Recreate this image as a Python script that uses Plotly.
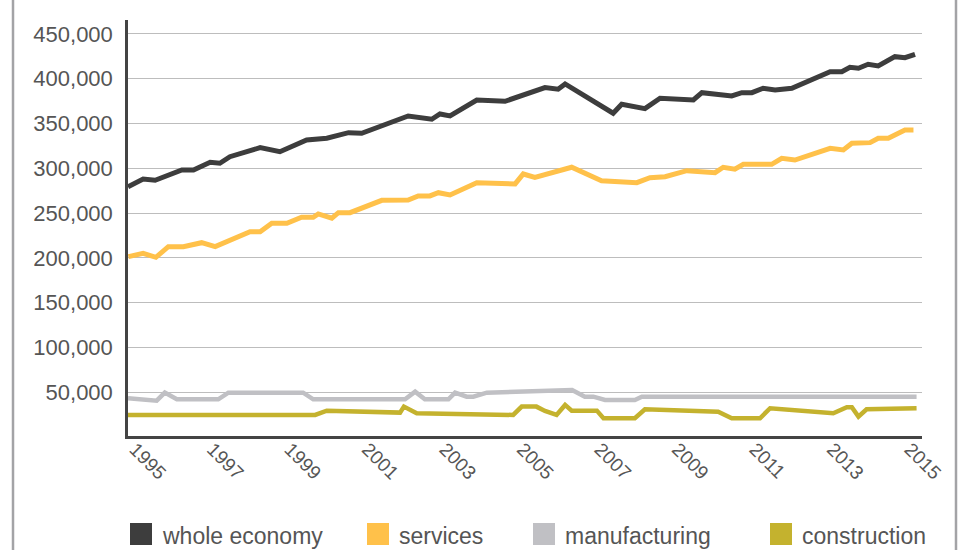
import plotly.graph_objects as go

# ---------------- data ----------------
series_names = ["whole economy", "services", "manufacturing", "construction"]

whole_x = [1995.00, 1995.39, 1995.70, 1996.39, 1996.69, 1997.12, 1997.37, 1997.63, 1998.41, 1998.92,
           1999.61, 2000.13, 2000.69, 2001.03, 2002.23, 2002.84, 2003.05, 2003.31, 2004.00, 2004.73,
           2005.76, 2006.10, 2006.28, 2007.52, 2007.74, 2008.34, 2008.73, 2009.59, 2009.81, 2010.58,
           2010.84, 2011.10, 2011.39, 2011.70, 2012.13, 2013.12, 2013.42, 2013.63, 2013.85, 2014.10,
           2014.36, 2014.79, 2015.05, 2015.31]
whole_y = [279500, 288100, 286700, 298200, 298200, 306800, 305700, 313000, 323100, 318600,
           331700, 333600, 339800, 339200, 358500, 354800, 360700, 358500, 376300, 374900,
           390100, 388300, 394200, 361500, 371500, 366600, 378200, 376300, 384500, 380800,
           384500, 384500, 389400, 387500, 389400, 407900, 407900, 412800, 411700, 416200,
           414300, 424700, 423500, 427300]

services_x = [1995.01, 1995.39, 1995.72, 1996.04, 1996.43, 1996.90, 1997.25, 1998.15, 1998.41, 1998.71,
              1999.10, 1999.48, 1999.78, 1999.91, 2000.26, 2000.43, 2000.73, 2001.55, 2002.23, 2002.49,
              2002.79, 2003.01, 2003.31, 2004.00, 2004.99, 2005.20, 2005.50, 2006.45, 2007.22, 2008.13,
              2008.47, 2008.86, 2009.42, 2010.15, 2010.36, 2010.66, 2010.88, 2011.61, 2011.87, 2012.21,
              2013.12, 2013.46, 2013.68, 2014.15, 2014.36, 2014.62, 2015.05, 2015.27]
services_y = [201400, 205200, 200700, 212600, 212600, 217000, 212600, 229300, 229300, 238700,
              238700, 245400, 245400, 249100, 244300, 250500, 250500, 264300, 264700, 269200,
              269200, 272800, 270300, 284000, 282600, 293700, 290000, 301200, 286200, 284000,
              289600, 290700, 297400, 295200, 301200, 299000, 304500, 304500, 311200, 309300,
              322400, 320500, 328000, 328700, 333600, 333600, 342800, 342800]

manuf_x = [1995.00, 1995.74, 1995.95, 1996.26, 1997.33, 1997.59, 1999.52, 1999.78, 2002.15, 2002.41,
           2002.66, 2003.27, 2003.44, 2003.74, 2003.91, 2004.26, 2006.46, 2006.79, 2007.01, 2007.31,
           2008.08, 2008.26, 2015.35]
manuf_y = [43300, 40700, 49600, 42200, 42200, 49600, 49600, 42200, 42200, 50700,
           42200, 42200, 49600, 45100, 45100, 49600, 52600, 45100, 45100, 41400,
           41400, 45100, 45100]

constr_x = [1995.00, 1999.83, 2000.13, 2002.02, 2002.12, 2002.45, 2004.94, 2005.16, 2005.54, 2005.76,
            2006.06, 2006.28, 2006.45, 2007.10, 2007.27, 2008.08, 2008.34, 2010.23, 2010.58, 2011.31,
            2011.57, 2013.20, 2013.55, 2013.68, 2013.85, 2014.06, 2015.35]
constr_y = [24700, 24700, 29500, 27300, 34000, 26600, 24700, 34000, 34000, 29200,
            24700, 35900, 29500, 29500, 21000, 21000, 31000, 28400, 21000, 21000,
            32200, 26600, 33300, 33300, 22800, 31000, 32200]

x_tick_vals = [1995, 1997, 1999, 2001, 2003, 2005, 2007, 2009, 2011, 2013, 2015]
x_tick_text = [str(v) for v in x_tick_vals]
y_tick_vals = [50000, 100000, 150000, 200000, 250000, 300000, 350000, 400000, 450000]

# ---------------- style ----------------
colors = ["#3d3d3d", "#ffc14a", "#c0c0c4", "#c4b22e"]
widths = [5, 5, 4.5, 4.5]
FONT = "Liberation Sans, Arial, sans-serif"
TXT = "#555555"

W, H = 966, 550
L, R, T, B = 128, 44, 20, 114
PW, PH = W - L - R, H - T - B


def px(x):
    return (x - L) / PW


def py(y):
    return (H - B - y) / PH


fig = go.Figure()
for name, xs, ys, c, w in zip(series_names,
                              [whole_x, services_x, manuf_x, constr_x],
                              [whole_y, services_y, manuf_y, constr_y],
                              colors, widths):
    fig.add_trace(go.Scatter(x=xs, y=ys, mode="lines", name=name,
                             line=dict(color=c, width=w), showlegend=False))

shapes = []
annotations = []
# custom legend with square swatches
legend_sq_x = [130, 367, 533, 770]
for name, c, sx in zip(series_names, colors, legend_sq_x):
    shapes.append(dict(type="rect", xref="paper", yref="paper",
                       x0=px(sx), x1=px(sx + 22), y0=py(545), y1=py(523),
                       fillcolor=c, line=dict(width=0)))
    annotations.append(dict(x=px(sx + 30), y=py(536), xref="paper", yref="paper",
                            text=name, showarrow=False, xanchor="left", yanchor="middle",
                            font=dict(family=FONT, size=23, color=TXT)))

# outer frame (left/right vertical rules)
for fx in (13, 956):
    shapes.append(dict(type="line", xref="paper", yref="paper",
                       x0=px(fx), x1=px(fx), y0=py(H + 5), y1=py(-5),
                       line=dict(color="#a3a3a6", width=2.5)))

fig.update_layout(
    width=W, height=H,
    margin=dict(l=L, r=R, t=T, b=B, autoexpand=False),
    paper_bgcolor="white", plot_bgcolor="white",
    font=dict(family=FONT, color=TXT),
    shapes=shapes, annotations=annotations,
    showlegend=False,
)
fig.update_xaxes(range=[1995, 2015.49], tickvals=x_tick_vals, ticktext=x_tick_text,
                 tickangle=45, tickfont=dict(size=19, color=TXT, family=FONT),
                 showgrid=False, zeroline=False, showline=True,
                 linecolor="#444444", linewidth=2.5, ticks="",
                 ticklabelstandoff=-8, ticklabelshift=7)
fig.update_yaxes(range=[1200, 465600], tickvals=y_tick_vals, tickformat=",d",
                 tickfont=dict(size=22, color=TXT, family=FONT),
                 showgrid=True, gridcolor="#bdbdbd", gridwidth=1,
                 zeroline=False, showline=True, linecolor="#444444", linewidth=2.5,
                 ticks="", ticklabelstandoff=8)

fig.write_html("out.html", config={"displayModeBar": False},
               post_script="document.body.style.margin='0px';document.body.style.overflow='hidden';")
